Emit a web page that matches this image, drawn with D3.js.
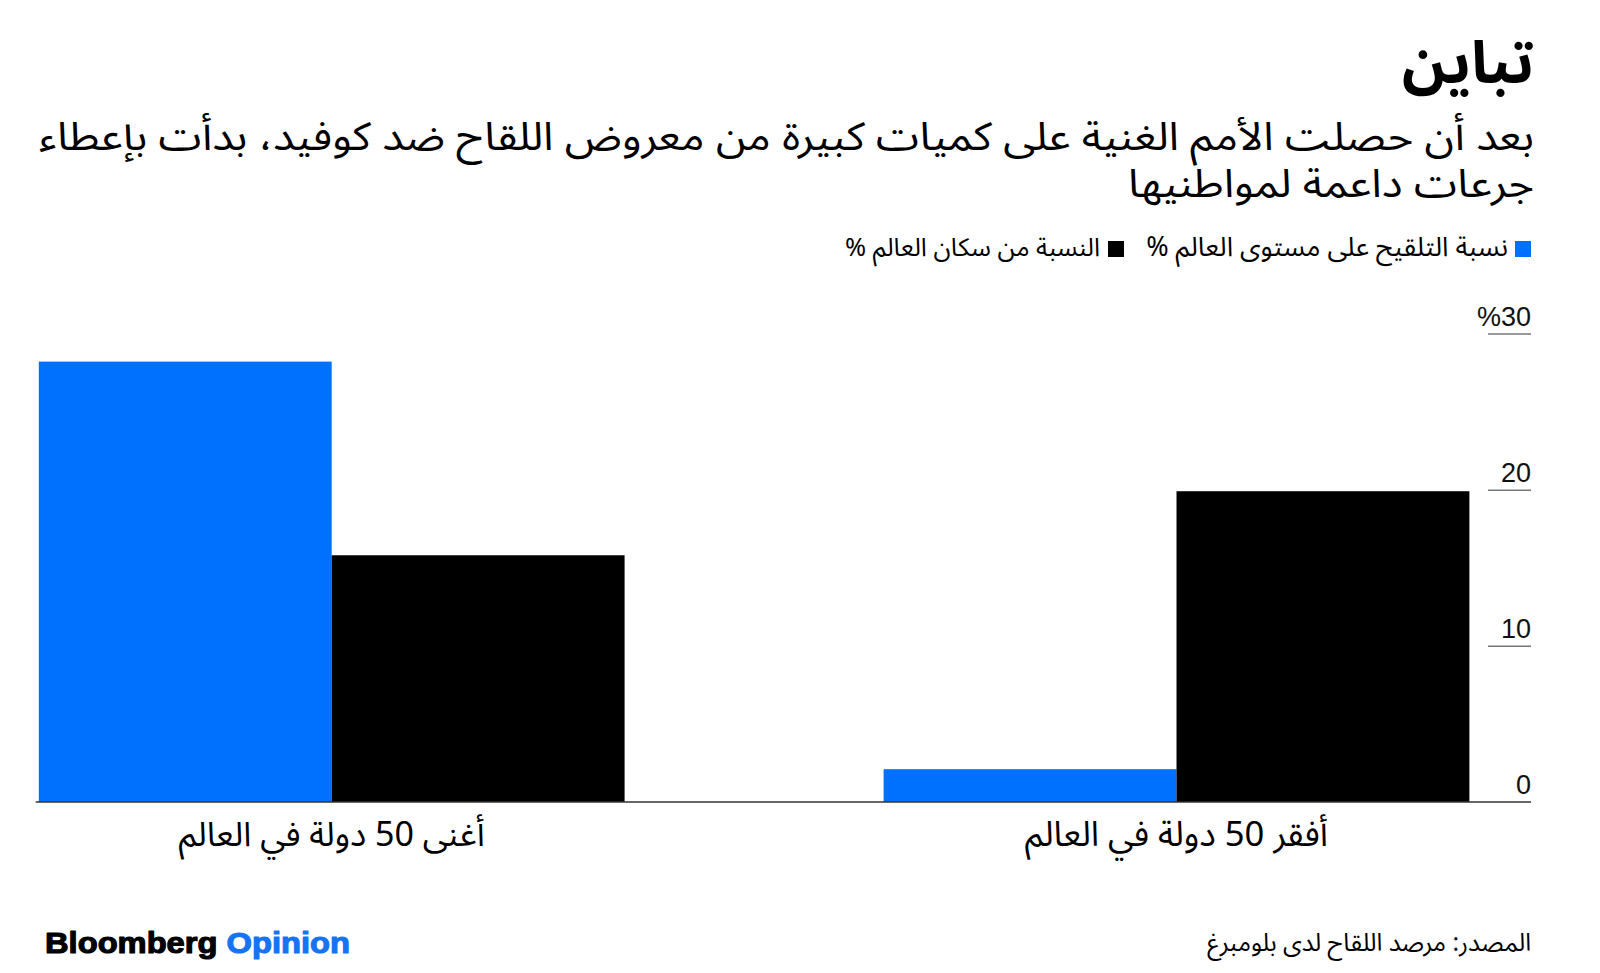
<!DOCTYPE html>
<html lang="ar">
<head>
<meta charset="utf-8">
<script src="https://cdn.jsdelivr.net/npm/d3@7"></script>
<style>
  html, body { margin: 0; padding: 0; background: #fff; }
  svg { display: block; }
</style>
</head>
<body>
<svg id="chart" width="1600" height="973"></svg>
<script>
// ---- Data ----
const categories = ["أغنى 50 دولة في العالم", "أفقر 50 دولة في العالم"];
const seriesKeys = ["vaccine", "population"];
const seriesNames = ["نسبة التلقيح على مستوى العالم %", "النسبة من سكان العالم %"];
const vaccineShare = [28.2, 2.1];
const populationShare = [15.8, 19.9];
const yTicks = [0, 10, 20, 30];
const yTickLabels = ["0", "10", "20", "%30"];
const titleText = "تباين";
const subtitleLines = [
  "بعد أن حصلت الأمم الغنية على كميات كبيرة من معروض اللقاح ضد كوفيد، بدأت بإعطاء",
  "جرعات داعمة لمواطنيها"
];
const sourceText = "المصدر: مرصد اللقاح لدى بلومبرغ";

// ---- Setup ----
const AR = "'Noto Sans Arabic', 'Noto Kufi Arabic', 'DejaVu Sans', sans-serif";
const LAT = "'Liberation Sans', Arial, Helvetica, sans-serif";
const BLUE = "#0070FF";
const BLACK = "#000000";
const colors = { vaccine: BLUE, population: BLACK };

const svg = d3.select("#chart");

function fit(sel, target, base) {
  sel.attr("font-size", base);
  const w = sel.node().getComputedTextLength();
  if (w > 0) sel.attr("font-size", base * target / w);
  return sel;
}

// Title
fit(svg.append("text")
  .attr("x", 1534).attr("y", 83)
  .attr("direction", "rtl").attr("text-anchor", "start")
  .attr("font-family", AR).attr("font-weight", "bold")
  .attr("fill", "#000").text(titleText), 132, 60);

// Subtitle: slightly smaller glyphs stretched horizontally to the reference width
const SUBX = 1534, SUBW = 1495, squeeze = 0.9;
const subG = svg.append("g")
  .attr("transform", `translate(${SUBX},0) scale(${1 / squeeze},1) translate(${-SUBX},0)`);
const sub1 = subG.append("text")
  .attr("x", SUBX).attr("y", 150)
  .attr("direction", "rtl").attr("text-anchor", "start")
  .attr("font-family", AR).attr("fill", "#000").text(subtitleLines[0]);
fit(sub1, SUBW * squeeze, 36);
const subSize = +sub1.attr("font-size");
subG.append("text")
  .attr("x", SUBX).attr("y", 197)
  .attr("direction", "rtl").attr("text-anchor", "start")
  .attr("font-family", AR).attr("fill", "#000")
  .attr("font-size", subSize).text(subtitleLines[1]);

// Legend
const legendItems = [
  { key: "vaccine", name: seriesNames[0], sx: 1515, tx: 1508, w: 362 },
  { key: "population", name: seriesNames[1], sx: 1108, tx: 1100, w: 255 }
];
const lg = svg.append("g").attr("class", "legend");
legendItems.forEach(d => {
  lg.append("rect").attr("x", d.sx).attr("y", 241).attr("width", 16).attr("height", 16)
    .attr("fill", colors[d.key]);
  fit(lg.append("text").attr("x", d.tx).attr("y", 256)
    .attr("direction", "rtl").attr("text-anchor", "start")
    .attr("font-family", AR).attr("fill", "#000").text(d.name), d.w, 22);
});

// Scales
const y = d3.scaleLinear().domain([0, 30]).range([802, 333.5]);
const x0 = d3.scaleBand().domain(categories).range([38.8, 1469.4])
  .paddingInner(0.3066).paddingOuter(0);
const x1 = d3.scaleBand().domain(seriesKeys).range([0, x0.bandwidth()]).padding(0);

const rows = categories.map((c, i) => ({
  category: c,
  values: [
    { key: "vaccine", value: vaccineShare[i] },
    { key: "population", value: populationShare[i] }
  ]
}));

// Y axis (right side, labels above tick lines)
const yAxis = d3.axisLeft(y).tickValues(yTicks.slice(1)).tickSize(43)
  .tickFormat(d => yTickLabels[yTicks.indexOf(d)]);
const ga = svg.append("g").attr("transform", "translate(1531,0)").call(yAxis);
ga.select(".domain").remove();
ga.selectAll(".tick line").attr("stroke", "#777").attr("stroke-width", 1.5);
ga.selectAll(".tick text")
  .attr("x", 0).attr("dy", -8).attr("y", 0)
  .attr("text-anchor", "end").attr("direction", "ltr")
  .attr("font-family", LAT).attr("font-size", 27).attr("fill", "#111");
svg.append("text").attr("x", 1531).attr("y", y(0) - 8)
  .attr("text-anchor", "end").attr("font-family", LAT).attr("font-size", 27)
  .attr("fill", "#111").text(yTickLabels[0]);

// Bars
const groups = svg.append("g").selectAll("g").data(rows).join("g")
  .attr("transform", d => `translate(${x0(d.category)},0)`);
groups.selectAll("rect").data(d => d.values).join("rect")
  .attr("x", d => x1(d.key))
  .attr("y", d => y(d.value))
  .attr("width", x1.bandwidth())
  .attr("height", d => y(0) - y(d.value))
  .attr("fill", d => colors[d.key]);

// Baseline
svg.append("line").attr("x1", 35.7).attr("x2", 1531).attr("y1", y(0)).attr("y2", y(0))
  .attr("stroke", "#333").attr("stroke-width", 1.5);

// Category labels
const catWidths = [306, 303];
categories.forEach((c, i) => {
  fit(svg.append("text")
    .attr("x", x0(c) + x0.bandwidth() / 2).attr("y", 846)
    .attr("direction", "rtl").attr("text-anchor", "middle")
    .attr("font-family", AR).attr("fill", "#000").text(c), catWidths[i], 26);
});

// Source
fit(svg.append("text").attr("x", 1531).attr("y", 951)
  .attr("direction", "rtl").attr("text-anchor", "start")
  .attr("font-family", AR).attr("fill", "#000").text(sourceText), 324, 22);

// Logo
const logo = svg.append("text").attr("x", 45).attr("y", 953)
  .attr("font-family", LAT).attr("font-weight", "bold").attr("font-size", 29)
  .attr("stroke-width", 1.1).attr("stroke-linejoin", "round");
logo.append("tspan").attr("fill", "#000").attr("stroke", "#000").text("Bloomberg ");
logo.append("tspan").attr("fill", "#1673F2").attr("stroke", "#1673F2").text("Opinion");
logo.attr("textLength", 305).attr("lengthAdjust", "spacingAndGlyphs");
</script>
</body>
</html>
